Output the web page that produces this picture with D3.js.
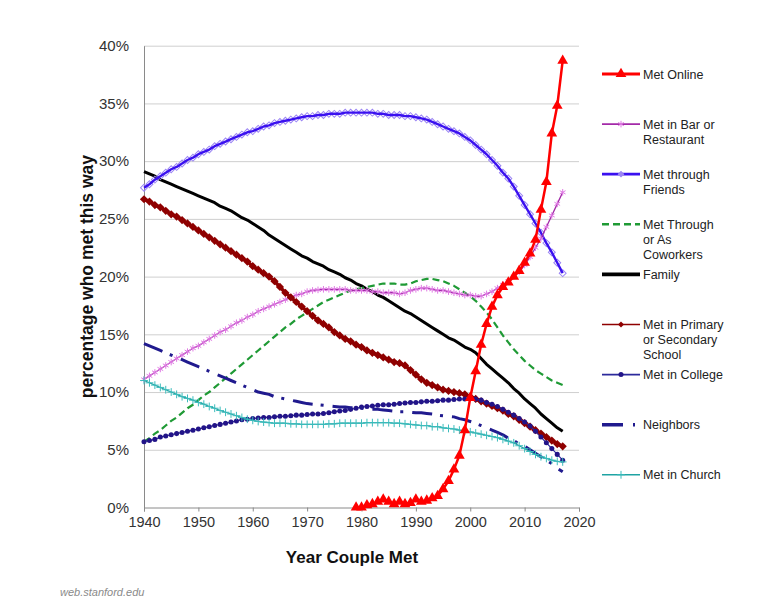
<!DOCTYPE html>
<html>
<head>
<meta charset="utf-8">
<script src="https://cdn.jsdelivr.net/npm/d3@7"></script>
<style>
  body { margin: 0; background: #fff; }
  svg { font-family: "Liberation Sans", Arial, sans-serif; }
  .axis path, .axis line { stroke: #8a8a8a; }
  .axis text { fill: #333; }
  .grid line { stroke: #cfcfcf; }
  .grid path { display: none; }
</style>
</head>
<body>
<div id="chart"></div>
<script>
// data ---------------------------------------------------------------------------------
var years = [1940,1941,1942,1943,1944,1945,1946,1947,1948,1949,
             1950,1951,1952,1953,1954,1955,1956,1957,1958,1959,
             1960,1961,1962,1963,1964,1965,1966,1967,1968,1969,
             1970,1971,1972,1973,1974,1975,1976,1977,1978,1979,
             1980,1981,1982,1983,1984,1985,1986,1987,1988,1989,
             1990,1991,1992,1993,1994,1995,1996,1997,1998,1999,
             2000,2001,2002,2003,2004,2005,2006,2007,2008,2009,
             2010,2011,2012,2013,2014,2015,2016,2017];

var online = [null,null,null,null,null,null,null,null,null,null,
              null,null,null,null,null,null,null,null,null,null,
              null,null,null,null,null,null,null,null,null,null,
              null,null,null,null,null,null,null,null,null,0.0,
              0.0,0.2,0.3,0.5,0.7,0.5,0.3,0.5,0.3,0.4,
              0.7,0.5,0.6,0.8,1.0,1.6,2.3,3.3,4.5,6.7,
              9.5,11.8,14.1,15.9,17.4,18.4,19.1,19.5,20.0,20.5,
              21.2,22.0,23.2,25.8,28.2,32.4,34.8,38.7];

var barRestaurant = [11.1,11.4,11.7,12.0,12.3,12.6,12.9,13.2,13.5,13.8,
                     14.0,14.3,14.6,14.9,15.2,15.4,15.7,16.0,16.2,16.5,
                     16.7,17.0,17.2,17.4,17.6,17.8,18.0,18.2,18.4,18.5,
                     18.7,18.8,18.85,18.9,18.9,18.9,18.9,18.9,18.8,18.8,
                     18.8,18.8,18.7,18.7,18.6,18.6,18.6,18.5,18.6,18.8,
                     18.9,19.0,19.0,18.9,18.8,18.8,18.7,18.6,18.5,18.4,
                     18.4,18.3,18.3,18.5,18.7,19.0,19.3,19.6,20.0,20.4,
                     21.0,21.7,22.5,23.3,24.3,25.3,26.3,27.3];

var friends = [27.7,28.0,28.4,28.7,29.0,29.3,29.5,29.8,30.1,30.3,
               30.6,30.8,31.0,31.3,31.5,31.7,31.9,32.1,32.3,32.5,
               32.6,32.8,33.0,33.1,33.3,33.4,33.5,33.6,33.7,33.8,
               33.9,33.9,34.0,34.0,34.1,34.1,34.1,34.2,34.2,34.2,
               34.2,34.2,34.2,34.1,34.1,34.0,34.0,34.0,33.9,33.9,
               33.8,33.7,33.6,33.4,33.2,33.0,32.8,32.6,32.4,32.1,
               31.8,31.4,31.0,30.6,30.1,29.6,29.0,28.5,27.8,27.0,
               26.2,25.4,24.6,23.8,22.9,22.1,21.2,20.3];

var coworkers = [5.7,6.0,6.4,6.7,7.1,7.5,7.8,8.2,8.6,8.9,
                 9.3,9.7,10.0,10.4,10.8,11.2,11.6,12.0,12.4,12.8,
                 13.2,13.6,14.0,14.4,14.8,15.2,15.6,15.9,16.3,16.6,
                 16.9,17.2,17.5,17.8,18.0,18.2,18.4,18.6,18.8,18.9,
                 19.0,19.1,19.2,19.3,19.4,19.4,19.4,19.3,19.3,19.4,
                 19.6,19.7,19.8,19.8,19.7,19.6,19.4,19.2,18.9,18.6,
                 18.3,17.9,17.4,16.9,16.3,15.6,14.9,14.3,13.7,13.2,
                 12.7,12.3,11.9,11.6,11.3,11.0,10.8,10.6];

var family = [29.1,28.9,28.7,28.4,28.2,28.0,27.8,27.6,27.4,27.2,
              27.0,26.8,26.6,26.4,26.1,25.9,25.7,25.4,25.1,24.9,
              24.6,24.3,24.0,23.6,23.3,23.0,22.7,22.4,22.1,21.8,
              21.6,21.3,21.1,20.9,20.6,20.4,20.2,19.9,19.7,19.4,
              19.2,18.9,18.7,18.4,18.2,17.9,17.6,17.3,17.0,16.8,
              16.5,16.2,15.9,15.6,15.3,15.0,14.7,14.5,14.2,13.9,
              13.7,13.4,12.9,12.4,12.0,11.6,11.2,10.8,10.3,9.9,
              9.4,9.0,8.6,8.1,7.7,7.3,6.9,6.6];

var school = [26.7,26.5,26.2,26.0,25.7,25.4,25.2,24.9,24.6,24.3,
              24.0,23.7,23.4,23.1,22.8,22.5,22.2,21.9,21.6,21.3,
              20.9,20.6,20.3,20.0,19.6,19.1,18.6,18.2,17.8,17.4,
              17.0,16.6,16.2,15.9,15.6,15.2,14.9,14.6,14.4,14.1,
              13.9,13.6,13.4,13.2,13.0,12.8,12.6,12.5,12.3,11.9,
              11.5,11.1,10.8,10.6,10.4,10.2,10.1,10.0,9.9,9.8,
              9.6,9.4,9.2,9.0,8.8,8.6,8.4,8.1,7.9,7.6,
              7.3,7.0,6.7,6.4,6.1,5.8,5.5,5.3];

var college = [5.7,5.8,5.9,6.1,6.2,6.3,6.4,6.5,6.6,6.7,
               6.8,6.9,7.0,7.1,7.2,7.3,7.4,7.5,7.6,7.65,
               7.7,7.75,7.8,7.8,7.85,7.9,7.9,7.95,8.0,8.0,
               8.05,8.1,8.1,8.15,8.2,8.3,8.35,8.4,8.5,8.6,
               8.7,8.75,8.8,8.85,8.9,8.9,8.95,9.0,9.05,9.1,
               9.1,9.15,9.2,9.2,9.25,9.3,9.3,9.35,9.4,9.4,
               9.45,9.4,9.3,9.1,8.95,8.75,8.5,8.25,8.0,7.7,
               7.4,7.05,6.6,6.1,5.6,5.1,4.6,4.1];

var neighbors = [14.2,14.0,13.8,13.6,13.4,13.2,13.0,12.8,12.6,12.4,
                 12.2,12.0,11.8,11.6,11.4,11.2,11.0,10.8,10.6,10.4,
                 10.2,10.0,9.9,9.8,9.6,9.5,9.4,9.3,9.2,9.1,
                 9.0,8.95,8.9,8.85,8.8,8.75,8.7,8.7,8.65,8.6,
                 8.6,8.55,8.5,8.5,8.45,8.4,8.35,8.3,8.3,8.25,
                 8.2,8.2,8.15,8.1,8.0,7.95,7.9,7.85,7.7,7.6,
                 7.45,7.3,7.1,6.9,6.7,6.5,6.3,6.0,5.8,5.5,
                 5.3,5.0,4.7,4.4,4.1,3.8,3.4,3.1];

var church = [11.0,10.8,10.6,10.4,10.2,10.0,9.8,9.6,9.45,9.3,
              9.1,8.95,8.75,8.6,8.4,8.25,8.1,7.95,7.8,7.65,
              7.55,7.45,7.4,7.35,7.3,7.3,7.3,7.25,7.25,7.2,
              7.2,7.2,7.2,7.2,7.25,7.25,7.3,7.3,7.3,7.3,
              7.3,7.35,7.35,7.35,7.35,7.35,7.3,7.3,7.25,7.2,
              7.15,7.1,7.1,7.0,7.0,6.9,6.85,6.8,6.7,6.6,
              6.55,6.45,6.35,6.25,6.15,6.05,5.9,5.75,5.6,5.35,
              5.1,4.85,4.6,4.4,4.25,4.1,4.0,3.95];

var yTicks = [0, 5, 10, 15, 20, 25, 30, 35, 40];
var xTicks = [1940, 1950, 1960, 1970, 1980, 1990, 2000, 2010, 2020];

// legend order, top to bottom
var legendNames = [["Met Online"],
                   ["Met in Bar or", "Restaurant"],
                   ["Met through", "Friends"],
                   ["Met Through", "or As", "Coworkers"],
                   ["Family"],
                   ["Met in Primary", "or Secondary", "School"],
                   ["Met in College"],
                   ["Neighbors"],
                   ["Met in Church"]];

// series styles (same order as legend) -------------------------------------------------
var series = [
  {values: online,        stroke: "#ff0000", width: 2.5, dash: null, marker: "triangle", mFill: "#ff0000", mStroke: "none", mSize: 50},
  {values: barRestaurant, stroke: "#a32aa8", width: 1.3, dash: null, marker: "asterisk", mFill: "none", mStroke: "#e07ae4", mSize: 30},
  {values: friends,       stroke: "#3a10f0", width: 2.4, dash: null, marker: "diamondOpen", mFill: "none", mStroke: "#9c86f4", mSize: 24},
  {values: coworkers,     stroke: "#1f9a35", width: 2.2, dash: "7,4", marker: null},
  {values: family,        stroke: "#000000", width: 3,   dash: null, marker: null},
  {values: school,        stroke: "#8f0000", width: 3.5, dash: null, marker: "diamond", mFill: "#8f0000", mStroke: "none", mSize: 34},
  {values: college,       stroke: "#2c2a9c", width: 1.2, dash: null, marker: "circle", mFill: "#221488", mStroke: "none", mSize: 20},
  {values: neighbors,     stroke: "#201a8e", width: 3,   dash: "20,8,3,9", marker: null},
  {values: church,        stroke: "#1fa3a3", width: 1.2, dash: null, marker: "plus", mFill: "none", mStroke: "#3cbcbc", mSize: 22}
];

// drawing order (online on top)
var drawOrder = [4, 3, 2, 1, 5, 6, 7, 8, 0];

// layout -------------------------------------------------------------------------------
var width = 768,
    height = 600;

var plot = {left: 144, right: 579, top: 45.7, bottom: 507.5};

var x = d3.scaleLinear()
    .domain([1940, 2020])
    .range([plot.left, plot.right]);

var y = d3.scaleLinear()
    .domain([0, 40])
    .range([plot.bottom, plot.top]);

var svg = d3.select("#chart").append("svg")
    .attr("width", width)
    .attr("height", height);

// grid lines
svg.append("g")
    .attr("class", "grid")
    .attr("transform", "translate(" + plot.left + ",0)")
    .call(d3.axisLeft(y).tickValues(yTicks.slice(1)).tickSize(-(plot.right - plot.left)).tickFormat(""));

// y axis
svg.append("g")
    .attr("class", "axis")
    .attr("transform", "translate(" + plot.left + ",0)")
    .call(d3.axisLeft(y).tickValues(yTicks).tickSize(0).tickPadding(15)
      .tickFormat(function(d) { return d + "%"; }))
    .selectAll("text")
    .style("font-size", "15px");

// x axis
svg.append("g")
    .attr("class", "axis")
    .attr("transform", "translate(0," + plot.bottom + ")")
    .call(d3.axisBottom(x).tickValues(xTicks).tickSize(4).tickPadding(5).tickFormat(d3.format("d")))
    .selectAll("text")
    .style("font-size", "14.5px");

// axis titles
svg.append("text")
    .attr("transform", "translate(93," + ((plot.top + plot.bottom) / 2) + ") rotate(-90)")
    .attr("text-anchor", "middle")
    .style("font-size", "17.5px")
    .style("font-weight", "bold")
    .style("fill", "#111")
    .text("percentage who met this way");

svg.append("text")
    .attr("x", 352)
    .attr("y", 563)
    .attr("text-anchor", "middle")
    .style("font-size", "17px")
    .style("font-weight", "bold")
    .style("fill", "#111")
    .text("Year Couple Met");

svg.append("text")
    .attr("x", 60)
    .attr("y", 596)
    .style("font-size", "11px")
    .style("font-style", "italic")
    .style("fill", "#8a8a8a")
    .text("web.stanford.edu");

// markers ------------------------------------------------------------------------------
var symbolFor = function(name) {
  if (name == "triangle") return d3.symbolTriangle;
  if (name == "asterisk") return d3.symbolAsterisk || d3.symbolCross;
  if (name == "plus") return d3.symbolPlus || d3.symbolCross;
  if (name == "circle") return d3.symbolCircle;
  return d3.symbolSquare; // diamonds are rotated squares
}

var markerTransform = function(s, px, py) {
  var t = "translate(" + px + "," + py + ")";
  if (s.marker == "diamond" || s.marker == "diamondOpen") t += " rotate(45)";
  return t;
}

var drawMarker = function(g, s, px, py) {
  g.append("path")
    .attr("d", d3.symbol().type(symbolFor(s.marker)).size(s.mSize)())
    .attr("transform", markerTransform(s, px, py))
    .attr("fill", s.mFill)
    .attr("stroke", s.mStroke)
    .attr("stroke-width", 1);
}

// series -------------------------------------------------------------------------------
var line = d3.line()
    .defined(function(d) { return d.v != null; })
    .x(function(d) { return x(d.year); })
    .y(function(d) { return y(d.v); });

var plotG = svg.append("g");

drawOrder.forEach(function(i) {
  var s = series[i];
  var pts = years.map(function(yr, j) { return {year: yr, v: s.values[j]}; });
  var g = plotG.append("g");

  if (s.marker == "diamondOpen") {
    pts.filter(function(d) { return d.v != null; }).forEach(function(d) {
      drawMarker(g, s, x(d.year), y(d.v));
    });
  }

  g.append("path")
    .attr("d", line(pts))
    .attr("fill", "none")
    .attr("stroke", s.stroke)
    .attr("stroke-width", s.width)
    .attr("stroke-dasharray", s.dash)
    .attr("stroke-linejoin", "round");

  if (s.marker && s.marker != "diamondOpen") {
    pts.filter(function(d) { return d.v != null; }).forEach(function(d) {
      drawMarker(g, s, x(d.year), y(d.v));
    });
  }
});

// legend -------------------------------------------------------------------------------
var legendTop = 74,
    legendStep = 50.1,
    lineStart = 602,
    lineEnd = 640,
    textX = 643,
    lineHeight = 15;

var legend = svg.append("g");

legendNames.forEach(function(names, i) {
  var s = series[i];
  var ly = legendTop + i * legendStep;
  var g = legend.append("g");

  if (s.dash == "20,8,3,9") {
    g.append("path")
      .attr("d", d3.line()([[lineStart, ly], [lineEnd, ly]]))
      .attr("stroke", s.stroke)
      .attr("stroke-width", 3.5)
      .attr("stroke-dasharray", "21,10,2,20");
  } else {
    g.append("path")
      .attr("d", d3.line()([[lineStart, ly], [lineEnd, ly]]))
      .attr("stroke", s.stroke)
      .attr("stroke-width", i == 4 ? 3.6 : (i == 5 ? 1.6 : s.width + 0.4))
      .attr("stroke-dasharray", s.dash);
  }

  if (s.marker) {
    var ms = Object.assign({}, s);
    if (s.marker == "diamondOpen") { ms.mFill = s.mStroke; ms.mSize = 14; }
    if (s.marker == "diamond") { ms.mSize = 18; }
    drawMarker(g, ms, (lineStart + lineEnd) / 2, ly);
  }

  g.selectAll("text")
    .data(names)
    .enter().append("text")
    .attr("x", textX)
    .attr("y", function(d, k) { return ly + k * lineHeight; })
    .attr("dy", "0.36em")
    .style("font-size", "12.5px")
    .style("fill", "#222")
    .text(function(d) { return d; });
});
</script>
</body>
</html>
